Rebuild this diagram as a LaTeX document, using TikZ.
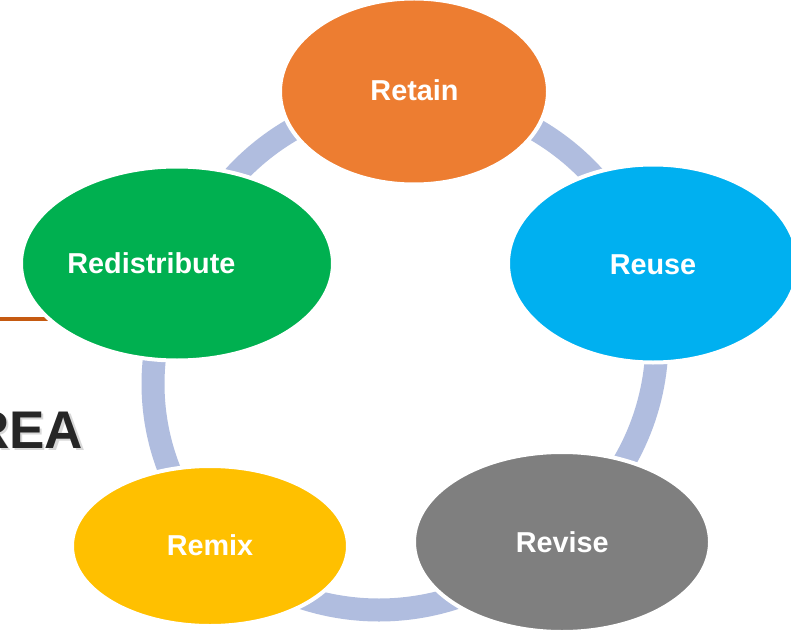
\documentclass[tikz,border=0pt]{standalone}
\usepackage{fontspec}
\setmainfont{Liberation Sans}
\usetikzlibrary{shapes.geometric}
\definecolor{cRetain}{HTML}{ED7D31}
\definecolor{cReuse}{HTML}{00B0F0}
\definecolor{cRevise}{HTML}{7F7F7F}
\definecolor{cRemix}{HTML}{FFC000}
\definecolor{cRedis}{HTML}{00B050}
\definecolor{cRing}{RGB}{176,189,223}
\definecolor{cLine}{HTML}{C55A11}
\definecolor{cDark}{HTML}{262626}
\tikzset{
  ring/.style={draw=cRing, line width=23pt},
  blob/.style={ellipse, draw=white, line width=4pt, inner sep=0pt, outer sep=0pt},
  lbl/.style={anchor=base, text=white, font=\bfseries\fontsize{28.8}{34}\selectfont, inner sep=0pt},
  title/.style={anchor=base east, inner sep=0pt, font=\bfseries\fontsize{53}{62}\selectfont},
}
\begin{document}
\begin{tikzpicture}[x=1pt,y=1pt]
\fill[white] (0,0) rectangle (791,630);
\useasboundingbox (0,0) rectangle (791,630);
\clip (0,0) rectangle (791,630);
% orange rule
\coordinate (l1) at (0,311.3);
\coordinate (l2) at (100,311.3);
\draw[cLine, line width=4pt] (l1) -- (l2);
% ring centres
\coordinate (cg) at (414,290);
\coordinate (cb) at (379,266.5);
\coordinate (cl) at (388,246);
% ring arcs
\draw[ring] (cg) ++(110:243) arc[start angle=110, end angle=145, radius=243];
\draw[ring] (cg) ++(35:243) arc[start angle=35, end angle=70, radius=243];
\draw[ring] (cg) ++(-40:243) arc[start angle=-40, end angle=5, radius=243];
\draw[ring] (cb) ++(-115:246.5) arc[start angle=-115, end angle=-65, radius=246.5];
\draw[ring] (cl) ++(165:235) arc[start angle=165, end angle=210, radius=235];
% ellipses
\node[blob, fill=cRetain, minimum width=268pt, minimum height=186pt] (retain) at (414,538.5) {};
\node[blob, fill=cReuse, minimum width=290pt, minimum height=198pt] (reuse) at (653,366.5) {};
\node[blob, fill=cRevise, minimum width=296pt, minimum height=180pt] (revise) at (562,88) {};
\node[blob, fill=cRemix, minimum width=276pt, minimum height=160pt] (remix) at (210,84) {};
\node[blob, fill=cRedis, minimum width=312pt, minimum height=194pt] (redis) at (177,366.5) {};
% labels
\node[lbl] (tretain) at (414.5,529.6) {Retain};
\node[lbl] (treuse) at (653,356) {Reuse};
\node[lbl] (trevise) at (562.3,78) {Revise};
\node[lbl] (tremix) at (210,75) {Remix};
\node[lbl] (tredis) at (151.4,357) {Redistribute};
% REA title
\node[title, text=black!30, opacity=0.5] (reash) at (85.5,179.5) {REA};
\node[title, text=cDark] (rea) at (83.3,182) {REA};
\end{tikzpicture}
\end{document}
